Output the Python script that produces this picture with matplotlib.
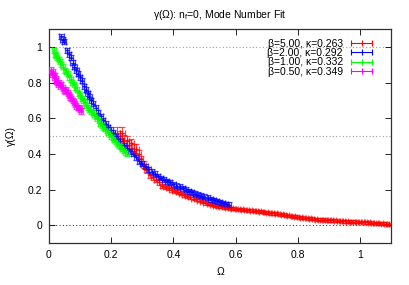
import matplotlib
matplotlib.use('Agg')
import matplotlib.pyplot as plt
from matplotlib.lines import Line2D

plt.rcParams['font.family'] = ['Liberation Sans', 'DejaVu Sans']
plt.rcParams['font.size'] = 7.5

# beta = 5.00
red_x = [0.220, 0.228, 0.235, 0.242, 0.250, 0.258, 0.265, 0.272, 0.280, 0.288,
         0.296, 0.305, 0.315, 0.325, 0.335, 0.345, 0.355, 0.365, 0.375, 0.385,
         0.395, 0.405, 0.415, 0.425, 0.435, 0.445, 0.455, 0.465, 0.475, 0.485,
         0.495, 0.505, 0.515, 0.525, 0.535, 0.545, 0.555, 0.565, 0.575, 0.585,
         0.595, 0.605, 0.615, 0.625, 0.635, 0.645, 0.655, 0.665, 0.675, 0.685,
         0.695, 0.705, 0.715, 0.725, 0.735, 0.745, 0.755, 0.765, 0.775, 0.785,
         0.795, 0.805, 0.815, 0.825, 0.835, 0.845, 0.855, 0.865, 0.875, 0.885,
         0.895, 0.905, 0.915, 0.925, 0.935, 0.945, 0.955, 0.965, 0.975, 0.985,
         0.995, 1.005, 1.015, 1.025, 1.035, 1.045, 1.055, 1.065, 1.075, 1.085, 1.095]
red_y = [0.52, 0.50, 0.52, 0.48, 0.47, 0.45, 0.46, 0.43, 0.43, 0.40,
         0.37, 0.34, 0.31, 0.28, 0.27, 0.255, 0.24, 0.22, 0.215, 0.21,
         0.20, 0.193, 0.185, 0.178, 0.17, 0.165, 0.158, 0.15, 0.145, 0.138,
         0.132, 0.125, 0.12, 0.115, 0.11, 0.106, 0.103, 0.10, 0.097, 0.095,
         0.093, 0.091, 0.089, 0.088, 0.086, 0.084, 0.082, 0.08, 0.078, 0.076,
         0.073, 0.071, 0.068, 0.066, 0.064, 0.061, 0.058, 0.055, 0.052, 0.05,
         0.047, 0.045, 0.043, 0.041, 0.038, 0.037, 0.035, 0.032, 0.031, 0.030,
         0.029, 0.028, 0.027, 0.026, 0.024, 0.023, 0.022, 0.021, 0.020, 0.019,
         0.018, 0.018, 0.017, 0.016, 0.015, 0.013, 0.012, 0.011, 0.009, 0.008, 0.006]
red_yerr = [0.03, 0.03, 0.03, 0.028, 0.028, 0.026, 0.026, 0.025, 0.024, 0.022,
            0.02, 0.018, 0.016, 0.015, 0.014, 0.013, 0.012, 0.012, 0.011, 0.011,
            0.011, 0.01, 0.01, 0.01, 0.01, 0.01, 0.01, 0.009, 0.009, 0.009,
            0.009, 0.009, 0.009, 0.008, 0.008, 0.008, 0.008, 0.008, 0.008, 0.008,
            0.008, 0.008, 0.008, 0.008, 0.008, 0.008, 0.008, 0.008, 0.008, 0.008,
            0.008, 0.008, 0.008, 0.008, 0.008, 0.008, 0.008, 0.008, 0.008, 0.008,
            0.008, 0.008, 0.008, 0.008, 0.008, 0.008, 0.008, 0.008, 0.008, 0.008,
            0.008, 0.008, 0.008, 0.008, 0.008, 0.008, 0.008, 0.008, 0.008, 0.008,
            0.008, 0.008, 0.008, 0.008, 0.008, 0.008, 0.008, 0.008, 0.008, 0.008, 0.008]

# beta = 2.00
blue_x = [0.040, 0.044, 0.048, 0.058, 0.064, 0.070, 0.076, 0.082, 0.088, 0.094,
          0.100, 0.106, 0.112, 0.118, 0.124, 0.130, 0.136, 0.142, 0.150, 0.158,
          0.166, 0.174, 0.182, 0.190, 0.198, 0.206, 0.214, 0.222, 0.230, 0.240,
          0.250, 0.260, 0.270, 0.280, 0.290, 0.300, 0.310, 0.320, 0.330, 0.340,
          0.350, 0.360, 0.370, 0.380, 0.390, 0.400, 0.410, 0.420, 0.430, 0.440,
          0.450, 0.460, 0.470, 0.480, 0.490, 0.500, 0.510, 0.520, 0.530, 0.540,
          0.550, 0.560, 0.570, 0.580]
blue_y = [1.06, 1.04, 1.03, 0.98, 0.96, 0.94, 0.91, 0.89, 0.87, 0.85,
          0.83, 0.81, 0.78, 0.76, 0.74, 0.72, 0.70, 0.68, 0.66, 0.63,
          0.61, 0.59, 0.57, 0.55, 0.535, 0.52, 0.50, 0.485, 0.47, 0.45,
          0.435, 0.415, 0.40, 0.38, 0.36, 0.345, 0.33, 0.315, 0.30, 0.29,
          0.275, 0.265, 0.255, 0.247, 0.24, 0.23, 0.222, 0.215, 0.207, 0.20,
          0.192, 0.186, 0.178, 0.172, 0.166, 0.16, 0.153, 0.146, 0.141, 0.135,
          0.129, 0.124, 0.119, 0.114]

# beta = 1.00
green_x = [0.015, 0.019, 0.023, 0.027, 0.031, 0.035, 0.040, 0.045, 0.050, 0.055,
           0.060, 0.065, 0.070, 0.075, 0.080, 0.085, 0.090, 0.095, 0.100, 0.105,
           0.110, 0.115, 0.120, 0.125, 0.130, 0.135, 0.140, 0.145, 0.150, 0.155,
           0.160, 0.165, 0.170, 0.175, 0.180, 0.185, 0.190, 0.195, 0.200, 0.205,
           0.210, 0.215, 0.220, 0.225, 0.230, 0.235, 0.240, 0.245, 0.250]
green_y = [0.98, 0.96, 0.95, 0.94, 0.93, 0.92, 0.90, 0.89, 0.87, 0.86,
           0.85, 0.83, 0.82, 0.80, 0.79, 0.77, 0.76, 0.74, 0.73, 0.71,
           0.70, 0.69, 0.67, 0.66, 0.65, 0.64, 0.63, 0.62, 0.61, 0.60,
           0.59, 0.57, 0.56, 0.55, 0.54, 0.53, 0.52, 0.51, 0.50, 0.49,
           0.48, 0.47, 0.46, 0.45, 0.44, 0.43, 0.42, 0.41, 0.40]

# beta = 0.50
mag_x = [0.006, 0.009, 0.012, 0.015, 0.018, 0.021, 0.024, 0.027, 0.030, 0.033,
         0.036, 0.040, 0.044, 0.048, 0.052, 0.056, 0.060, 0.064, 0.068, 0.072,
         0.076, 0.080, 0.084, 0.088, 0.092, 0.096, 0.100, 0.104]
mag_y = [0.87, 0.85, 0.86, 0.83, 0.84, 0.81, 0.82, 0.80, 0.79, 0.80,
         0.78, 0.79, 0.77, 0.76, 0.75, 0.76, 0.74, 0.73, 0.72, 0.71,
         0.70, 0.69, 0.68, 0.67, 0.66, 0.66, 0.65, 0.64]

labels = ['β=5.00, κ=0.263', 'β=2.00, κ=0.292', 'β=1.00, κ=0.332', 'β=0.50, κ=0.349']
colors = ['#ff0000', '#0000ff', '#00ff00', '#ff00ff']

fig = plt.figure(figsize=(4.09, 2.85), dpi=100)
ax = fig.add_axes([0.1198, 0.147, 0.836, 0.751])

ax.axhline(1.0, color='#a0a0a0', lw=0.8, ls=(0, (1, 2)), zorder=1)
ax.axhline(0.5, color='#a0a0a0', lw=0.8, ls=(0, (1, 2)), zorder=1)
ax.axhline(0.0, color='#404040', lw=0.8, ls=(0, (1, 2)), zorder=1)

series = [(red_x, red_y, red_yerr, 0.008),
          (blue_x, blue_y, 0.014, 0.007),
          (green_x, green_y, 0.014, 0.006),
          (mag_x, mag_y, 0.016, 0.006)]
for (x, y, ye, xe), c in zip(series, colors):
    ax.errorbar(x, y, yerr=ye, xerr=xe, fmt='+', color=c, ms=3.5, mew=0.9,
                elinewidth=0.7, capsize=2, capthick=0.7, alpha=0.7, zorder=3)

handles = [Line2D([0], [0], color=c, lw=0.8, marker='|', ms=4, mew=0.8) for c in colors]
ax.legend(handles, labels, loc='upper right', bbox_to_anchor=(0.975, 0.99),
          frameon=False, markerfirst=False, numpoints=3, handlelength=2.6,
          handletextpad=0.5, labelspacing=-0.05, borderpad=0.2, fontsize=7.5)

ax.set_xlim(0, 1.1)
ax.set_ylim(-0.1, 1.1)
ax.set_xticks([0, 0.2, 0.4, 0.6, 0.8, 1])
ax.set_xticklabels(['0', '0.2', '0.4', '0.6', '0.8', '1'])
ax.set_yticks([0, 0.2, 0.4, 0.6, 0.8, 1])
ax.set_yticklabels(['0', '0.2', '0.4', '0.6', '0.8', '1'])
ax.tick_params(direction='in', top=True, right=True, length=4, width=0.6, labelsize=7.5, pad=5)
for s in ax.spines.values():
    s.set_linewidth(0.9)
    s.set_color('#303030')

ax.set_title('γ(Ω): n$_\\mathregular{f}$=0, Mode Number Fit', fontsize=7.5, pad=8)
ax.set_xlabel('Ω', fontsize=7.5, labelpad=5)
ax.set_ylabel('γ(Ω)', fontsize=7.5, labelpad=8)

fig.savefig('out.png', dpi=100)
